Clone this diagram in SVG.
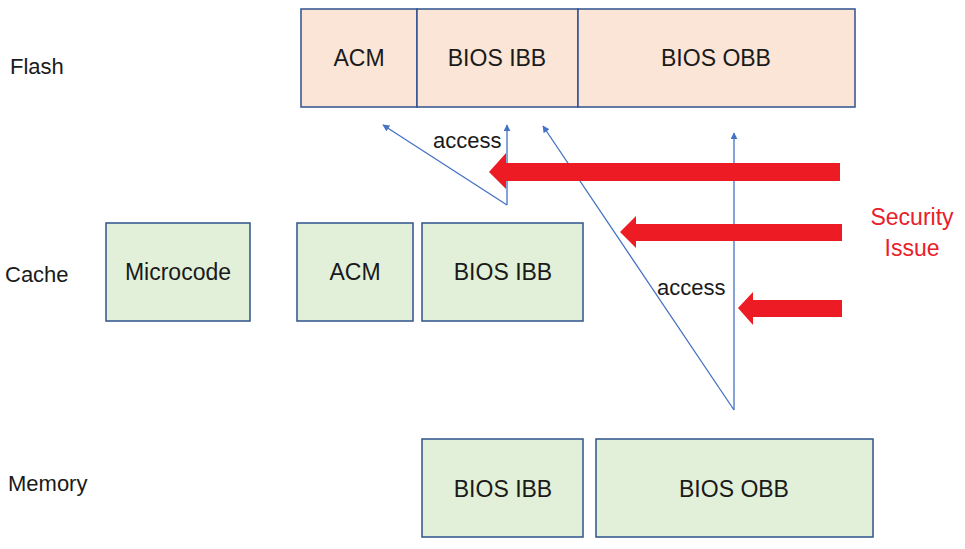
<svg xmlns="http://www.w3.org/2000/svg" width="965" height="549" viewBox="0 0 965 549">
<defs>
<style>
.lbl{font-family:"Liberation Sans","Open Sans",Arial,sans-serif;font-size:22px;fill:#1a1a1a}
.box{font-size:23px}
.ctr{text-anchor:middle}
.flash{fill:#FBE5D6;stroke:#2F528F;stroke-width:1.5}
.green{fill:#E2F0D9;stroke:#2F528F;stroke-width:1.5}
.blue{stroke:#4472C4;stroke-width:1.3;fill:none;marker-end:url(#ah)}
.red{fill:#ED1C24}
.sec{font-family:"Liberation Sans","Open Sans",Arial,sans-serif;font-size:23px;fill:#E8202A;text-anchor:middle}
</style>
<marker id="ah" viewBox="0 0 10 10" refX="9" refY="5" markerWidth="7" markerHeight="7" markerUnits="userSpaceOnUse" orient="auto">
<path d="M0,0 L10,5 L0,10 z" fill="#4472C4"/>
</marker>
</defs>
<rect width="965" height="549" fill="#ffffff"/>
<g id="row-labels">
<text class="lbl" x="10" y="74">Flash</text>
<text class="lbl" x="5" y="282">Cache</text>
<text class="lbl" x="8" y="491">Memory</text>
</g>
<g id="flash-acm"><rect class="flash" x="301" y="9" width="116" height="98"/><text class="lbl box ctr" x="359" y="66">ACM</text></g>
<g id="flash-ibb"><rect class="flash" x="417" y="9" width="161" height="98"/><text class="lbl box ctr" x="497" y="66">BIOS IBB</text></g>
<g id="flash-obb"><rect class="flash" x="578" y="9" width="277" height="98"/><text class="lbl box ctr" x="716" y="66">BIOS OBB</text></g>
<g id="cache-microcode"><rect class="green" x="106" y="223" width="144" height="98"/><text class="lbl box ctr" x="178" y="280">Microcode</text></g>
<g id="cache-acm"><rect class="green" x="297" y="223" width="116" height="98"/><text class="lbl box ctr" x="355" y="280">ACM</text></g>
<g id="cache-ibb"><rect class="green" x="422" y="223" width="161" height="98"/><text class="lbl box ctr" x="503" y="280">BIOS IBB</text></g>
<g id="mem-ibb"><rect class="green" x="422" y="439" width="161" height="98"/><text class="lbl box ctr" x="503" y="497">BIOS IBB</text></g>
<g id="mem-obb"><rect class="green" x="596" y="439" width="277" height="98"/><text class="lbl box ctr" x="734" y="497">BIOS OBB</text></g>
<g id="connectors">
<line class="blue" x1="507" y1="205" x2="383" y2="125"/>
<line class="blue" x1="507" y1="205" x2="507" y2="125"/>
<line class="blue" x1="734" y1="410" x2="543" y2="126"/>
<line class="blue" x1="734" y1="410" x2="734" y2="133"/>
<text class="lbl" x="433" y="148">access</text>
<text class="lbl" x="657" y="295">access</text>
</g>
<g id="security-arrows">
<polygon class="red" points="489,172 506,153 506,163 840,163 840,181 506,181 506,189"/>
<polygon class="red" points="620,232 636,216 636,224 842,224 842,241 636,241 636,248"/>
<polygon class="red" points="738,308 753,292 753,300 842,300 842,317 753,317 753,325"/>
</g>
<g id="security-label">
<text class="sec" x="912" y="225">Security</text>
<text class="sec" x="912" y="256">Issue</text>
</g>
</svg>
